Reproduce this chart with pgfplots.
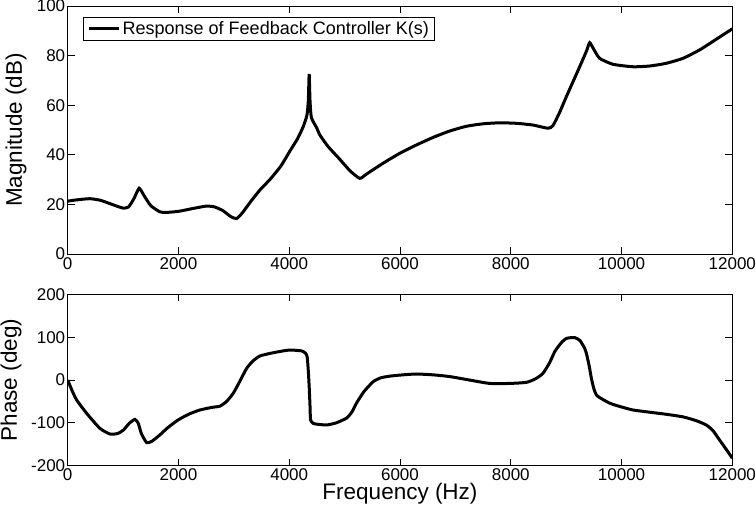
\documentclass[border=0pt]{standalone}
\usepackage{fontspec}
\setmainfont{Liberation Sans}
\usepackage{pgfplots}
\pgfplotsset{compat=1.18}
\pgfplotsset{
  mystyle/.style={
    scale only axis, width=664.6pt, xmin=0, xmax=12000,
    xtick={0,2000,...,12000},
    tick align=inside, major tick length=7pt,
    axis line style={line width=0.8pt},
    every tick/.style={black, line width=0.8pt},
    /pgf/number format/assume math mode=true,
    /pgf/number format/1000 sep={},
    scaled ticks=false,
    tick label style={font=\fontsize{17}{20}\selectfont},
    yticklabel style={xshift=1pt, inner ysep=1pt},
    xticklabel style={inner ysep=3pt},
    label style={font=\fontsize{22.5}{26}\selectfont, inner sep=0pt},
  }
}
\begin{document}
\begin{tikzpicture}
\useasboundingbox (-67.7pt,6pt) rectangle (688.3pt,-507pt);
\begin{axis}[mystyle, at={(0pt,0pt)}, anchor=north west, height=248pt,
  ymin=0, ymax=100, ytick={0,20,...,100},
  ylabel={Magnitude (dB)},
  ylabel style={at={(axis description cs:-0.0777,0.5)}, anchor=center},
  legend cell align=left,
  legend style={at={(0,1)}, anchor=north west, xshift=15.6pt, yshift=-10.7pt,
    draw=black, line width=0.8pt, font=\fontsize{18}{21}\selectfont,
    inner xsep=4pt, inner ysep=2.5pt},
  legend image code/.code={\draw[line width=3pt] (0pt,0pt) -- (30pt,0pt);},
]
\addplot[black, line width=3pt, smooth, tension=0.35] coordinates {
(0,21.3) (150,21.8) (400,22.3) (600,21.6) (800,20.0) (1000,18.5) (1100,19.0)
(1200,22.5) (1290,26.5) (1380,23.5) (1500,19.5) (1666,17.0) (1800,16.8)
(2000,17.2) (2250,18.3) (2500,19.3) (2650,19.0) (2800,17.5) (2950,15.0)
(3050,14.3) (3150,16.5) (3300,21.0) (3470,25.8) (3650,30.0) (3850,35.5)
(4012,41.5) (4150,46.5) (4252,51.3) (4320,56) (4345,62) (4360,72.6)
(4375,62) (4400,55) (4493,51) (4553,48) (4703,43.3) (4900,38.5) (5100,33.5)
(5274,30.5) (5400,32.3) (5695,36.6) (5996,40.6) (6300,44.0) (6597,47.0)
(6900,49.6) (7199,51.5) (7500,52.5) (7800,52.9) (8100,52.7) (8400,52.0)
(8672,50.7) (8762,51.8) (8880,57) (9003,63.4) (9244,75.5) (9370,82)
(9424,85.2) (9500,82.5) (9605,78.9) (9846,76.5) (10206,75.5) (10507,75.8)
(10808,76.9) (11109,78.9) (11410,82.3) (11711,86.6) (12000,90.8)
};
\addlegendentry{Response of Feedback Controller K(s)}
\end{axis}
\begin{axis}[mystyle, at={(0pt,-288.3pt)}, anchor=north west, height=171.4pt,
  ymin=-200, ymax=200, ytick={-200,-100,...,200},
  ylabel={Phase (deg)},
  ylabel style={at={(axis description cs:-0.0853,0.5)}, anchor=center},
  xlabel={Frequency (Hz)},
  xlabel style={at={(axis description cs:0.5,-0.165)}, anchor=center},
]
\addplot[black, line width=3pt, smooth, tension=0.35] coordinates {
(0,0) (80,-25) (162,-46.7) (343,-78) (583,-113) (763,-126) (900,-125)
(1004,-117) (1120,-100) (1214,-92) (1274,-101) (1330,-125) (1425,-146)
(1520,-143) (1666,-128) (1800,-112) (1996,-93) (2200,-79) (2388,-70)
(2600,-64) (2748,-61) (2870,-50) (2989,-31) (3100,-5) (3230,27) (3350,45)
(3470,56) (3651,62) (3850,67) (4012,70) (4222,68) (4290,63) (4324,54)
(4345,20) (4360,-15) (4375,-60) (4385,-93) (4430,-101) (4493,-103)
(4673,-105) (4850,-100) (5034,-89) (5130,-75) (5214,-54) (5350,-27)
(5515,-4) (5650,5) (5816,9) (6050,12) (6297,14) (6600,12) (6898,8)
(7250,0) (7620,-8) (7981,-8) (8282,-5.5) (8450,3) (8582,15.6) (8700,40)
(8793,66) (8900,85) (9003,97) (9154,99) (9250,92) (9334,74) (9370,60)
(9420,30) (9454,5) (9500,-20) (9560,-37) (9785,-54) (10000,-63)
(10206,-70) (10500,-75) (10808,-80) (11109,-86) (11350,-95) (11530,-105)
(11650,-118) (11770,-140) (11880,-160) (11982,-179) (12000,-183)
};
\end{axis}
\end{tikzpicture}
\end{document}
